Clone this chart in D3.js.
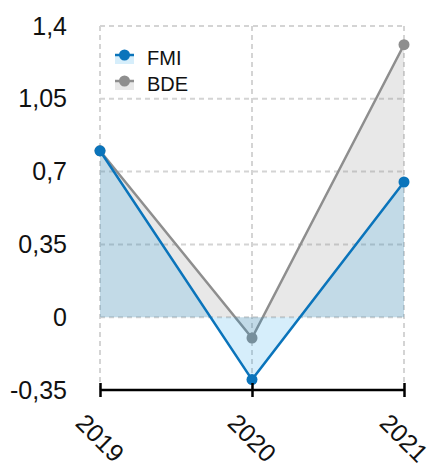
<!DOCTYPE html>
<html>
<head>
<meta charset="utf-8">
<script src="https://cdn.jsdelivr.net/npm/d3@7"></script>
<style>
  html, body { margin: 0; padding: 0; background: #fff; }
  svg { display: block; font-family: "Helvetica Neue", Helvetica, Arial, "Liberation Sans", sans-serif; }
</style>
</head>
<body>
<svg id="chart" width="427" height="468"></svg>
<script>
// Annual values, two series
const years = ["2019", "2020", "2021"];
const fmiValues = [0.8, -0.3, 0.65];
const bdeValues = [0.8, -0.1, 1.31];
const yTickValues = [-0.35, 0, 0.35, 0.7, 1.05, 1.4];
const seriesNames = ["FMI", "BDE"];

const series = [
  { name: seriesNames[1], values: bdeValues, line: "#8e8e8e", fill: "rgba(128,128,128,0.18)" },
  { name: seriesNames[0], values: fmiValues, line: "#0a74bb", fill: "rgba(0,148,228,0.16)" }
];

const svg = d3.select("#chart");

const x = d3.scalePoint().domain(years).range([100, 404]);
const y = d3.scaleLinear().domain([-0.35, 1.4]).range([390, 26]);
const fmtComma = d => String(d).replace(".", ",");

// Dashed grid
const grid = svg.append("g");
grid.selectAll(".hg").data(yTickValues).join("line")
  .attr("x1", x.range()[0]).attr("x2", x.range()[1])
  .attr("y1", d => y(d)).attr("y2", d => y(d))
  .attr("stroke", "#d4d4d4").attr("stroke-width", 2).attr("stroke-dasharray", "5,4");
grid.selectAll(".vg").data(years).join("line")
  .attr("x1", d => x(d)).attr("x2", d => x(d))
  .attr("y1", y.range()[1]).attr("y2", y.range()[0])
  .attr("stroke", "#d4d4d4").attr("stroke-width", 2).attr("stroke-dasharray", "5,4");

// Y labels
const yAxis = svg.append("g")
  .attr("transform", "translate(67,0)")
  .call(d3.axisLeft(y).tickValues(yTickValues).tickSize(0).tickPadding(0).tickFormat(fmtComma));
yAxis.select(".domain").remove();
yAxis.selectAll("text").attr("font-size", 25).attr("fill", "#111").attr("font-family", null);

// Areas, lines and points
const area = d3.area()
  .x((d, i) => x(years[i]))
  .y0(y(0))
  .y1(d => y(d));
const line = d3.line()
  .x((d, i) => x(years[i]))
  .y(d => y(d));

series.forEach(s => {
  const g = svg.append("g");
  g.append("path").attr("d", area(s.values)).attr("fill", s.fill);
  g.append("path").attr("d", line(s.values)).attr("fill", "none")
    .attr("stroke", s.line).attr("stroke-width", 2.5);
  g.selectAll("circle").data(s.values).join("circle")
    .attr("cx", (d, i) => x(years[i])).attr("cy", d => y(d))
    .attr("r", 5.5).attr("fill", s.line);
});

// Bottom axis
const xAxis = svg.append("g")
  .attr("transform", `translate(0,${y.range()[0]})`)
  .call(d3.axisBottom(x).tickSize(7).tickFormat(""));
xAxis.select(".domain").attr("stroke", "#000").attr("stroke-width", 2.5)
  .attr("d", `M${x.range()[0]},0H${x.range()[1]}`);
xAxis.selectAll(".tick line").attr("y1", -7).attr("y2", 7)
  .attr("stroke", "#000").attr("stroke-width", 2.5);

svg.append("g").selectAll("text").data(years).join("text")
  .attr("transform", d => `translate(${x(d)},438) rotate(45)`)
  .attr("text-anchor", "middle")
  .attr("dy", "0.35em")
  .attr("font-size", 25)
  .attr("fill", "#111")
  .text(d => d);

// Legend
const legend = svg.append("g");
[series[1], series[0]].forEach((s, i) => {
  const ly = 55 + i * 26;
  const lg = legend.append("g").attr("transform", `translate(0,${ly})`);
  lg.append("rect").attr("x", 115).attr("y", 0).attr("width", 19).attr("height", 9).attr("fill", s.fill);
  lg.append("line").attr("x1", 115).attr("x2", 134).attr("y1", 0).attr("y2", 0)
    .attr("stroke", s.line).attr("stroke-width", 2.5);
  lg.append("circle").attr("cx", 124.5).attr("cy", 0).attr("r", 5.5).attr("fill", s.line);
  lg.append("text").attr("x", 147).attr("y", 3).attr("dy", "0.35em")
    .attr("font-size", 20).attr("fill", "#111").text(s.name);
});
</script>
</body>
</html>
